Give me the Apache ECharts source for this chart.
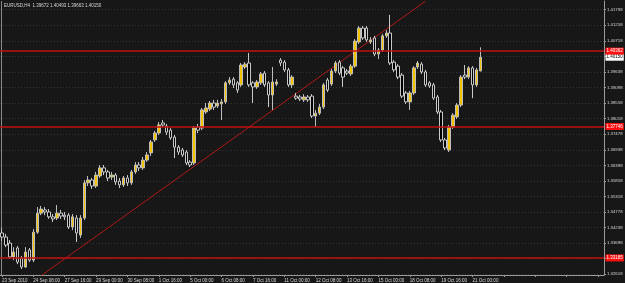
<!DOCTYPE html>
<html><head><meta charset="utf-8">
<script src="https://cdn.jsdelivr.net/npm/echarts@6/dist/echarts.min.js"></script>
<style>html,body{margin:0;padding:0;background:#171717;overflow:hidden}#c{width:625px;height:283px}</style>
</head><body><div id="c"></div>
<script>
const symbolName = 'EURUSD,H4';
const timeLabels = ['23 Sep 2010','24 Sep 08:00','27 Sep 16:00','29 Sep 00:00','30 Sep 08:00','1 Oct 16:00','5 Oct 00:00','6 Oct 08:00','7 Oct 16:00','11 Oct 00:00','12 Oct 08:00','13 Oct 16:00','15 Oct 00:00','18 Oct 08:00','19 Oct 16:00','21 Oct 00:00'];
const openV = [1.3405,1.3391,1.3370,1.3322,1.3353,1.3318,1.3287,1.3346,1.3311,1.3408,
1.3474,1.3485,1.3478,1.3461,1.3457,1.3474,1.3467,1.3467,1.3426,1.3457,
1.3398,1.3457,1.3579,1.3589,1.3568,1.3603,1.3631,1.3617,1.3599,1.3606,
1.3585,1.3572,1.3596,1.3579,1.3617,1.3641,1.3631,1.3658,1.3683,1.3728,
1.3752,1.3787,1.3776,1.3762,1.3738,1.3703,1.3693,1.3686,1.3651,1.3648,
1.3773,1.3769,1.3825,1.3835,1.3856,1.3846,1.3853,1.3860,1.3926,1.3939,
1.3926,1.3919,1.3981,1.3995,1.3926,1.3912,1.3926,1.3960,1.3926,1.3884,
1.3922,1.4005,1.3998,1.3971,1.3919,1.3880,1.3877,1.3867,1.3877,1.3880,
1.3811,1.3821,1.3842,1.3936,1.3922,1.3967,1.3998,1.3978,1.3967,1.3957,
1.3984,1.4068,1.4116,1.4116,1.4068,1.4082,1.4026,1.4040,1.4089,1.4099,
1.3998,1.3984,1.3953,1.3891,1.3860,1.3891,1.3981,1.3991,1.3964,1.3926,
1.3919,1.3877,1.3825,1.3728,1.3693,1.3773,1.3808,1.3849,1.3953,1.3946,
1.3978,1.3919,1.39672];
const closeV = [1.3391,1.3363,1.3322,1.3339,1.3304,1.3287,1.3339,1.3311,1.3408,1.3474,
1.3488,1.3478,1.3461,1.3454,1.3474,1.3464,1.3461,1.3426,1.3461,1.3405,
1.3457,1.3579,1.3589,1.3568,1.3606,1.3631,1.3617,1.3596,1.3606,1.3582,
1.3572,1.3596,1.3579,1.3617,1.3641,1.3631,1.3658,1.3676,1.3721,1.3752,
1.3780,1.3780,1.3755,1.3735,1.3703,1.3686,1.3676,1.3648,1.3641,1.3769,
1.3762,1.3832,1.3839,1.3856,1.3842,1.3856,1.3860,1.3926,1.3936,1.3919,
1.3901,1.3988,1.3991,1.3919,1.3912,1.3929,1.3957,1.3919,1.3884,1.3929,
1.3929,1.3995,1.3971,1.3919,1.3946,1.3873,1.3870,1.3877,1.3867,1.3811,
1.3821,1.3842,1.3919,1.3901,1.3967,1.3995,1.3960,1.3946,1.3960,1.3984,
1.4071,1.4116,1.4082,1.4075,1.4075,1.4026,1.4040,1.4089,1.4099,1.3995,
1.3971,1.3946,1.3880,1.3860,1.3891,1.3978,1.3995,1.3964,1.3919,1.3915,
1.3873,1.3825,1.3728,1.3700,1.3773,1.3814,1.3849,1.3946,1.3946,1.3978,
1.3919,1.3971,1.40150];
const lowV = [1.3377,1.3356,1.3315,1.3311,1.3297,1.3280,1.3284,1.3304,1.3304,1.3402,
1.3467,1.3467,1.3454,1.3443,1.3450,1.3454,1.3450,1.3419,1.3415,1.3374,
1.3388,1.3450,1.3568,1.3558,1.3561,1.3596,1.3606,1.3585,1.3589,1.3572,
1.3561,1.3565,1.3568,1.3572,1.3610,1.3620,1.3624,1.3651,1.3672,1.3721,
1.3745,1.3773,1.3745,1.3728,1.3665,1.3676,1.3669,1.3641,1.3634,1.3641,
1.3752,1.3762,1.3818,1.3828,1.3832,1.3839,1.3797,1.3853,1.3919,1.3908,
1.3891,1.3912,1.3974,1.3912,1.3856,1.3905,1.3919,1.3912,1.3842,1.3832,
1.3915,1.3984,1.3964,1.3912,1.3908,1.3867,1.3863,1.3860,1.3860,1.3804,
1.3773,1.3814,1.3835,1.3894,1.3915,1.3960,1.3953,1.3912,1.3953,1.3950,
1.3978,1.4061,1.4075,1.4068,1.4061,1.4019,1.4009,1.4033,1.4082,1.3988,
1.3964,1.3939,1.3873,1.3853,1.3832,1.3884,1.3974,1.3957,1.3912,1.3908,
1.3867,1.3818,1.3721,1.3693,1.3686,1.3766,1.3801,1.3842,1.3939,1.3939,
1.3873,1.3912,1.39663];
const highV = [1.3422,1.3402,1.3381,1.3356,1.3360,1.3325,1.3356,1.3353,1.3419,1.3495,
1.3499,1.3495,1.3488,1.3471,1.3502,1.3485,1.3478,1.3474,1.3471,1.3467,
1.3467,1.3589,1.3603,1.3596,1.3617,1.3641,1.3641,1.3624,1.3617,1.3613,
1.3596,1.3603,1.3606,1.3624,1.3651,1.3651,1.3669,1.3686,1.3728,1.3759,
1.3790,1.3797,1.3783,1.3769,1.3745,1.3710,1.3700,1.3693,1.3658,1.3776,
1.3783,1.3839,1.3856,1.3863,1.3867,1.3867,1.3870,1.3932,1.3946,1.3946,
1.3932,1.3995,1.3998,1.4030,1.3932,1.3936,1.3964,1.3967,1.3932,1.3981,
1.3939,1.4012,1.4005,1.3978,1.3953,1.3891,1.3884,1.3887,1.3884,1.3887,
1.3832,1.3853,1.3926,1.3943,1.3974,1.4002,1.4005,1.3984,1.3974,1.3991,
1.4078,1.4123,1.4123,1.4123,1.4085,1.4089,1.4047,1.4096,1.4109,1.4162,
1.4005,1.3991,1.3960,1.3898,1.3898,1.3984,1.4002,1.3998,1.3971,1.3932,
1.3926,1.3884,1.3832,1.3735,1.3780,1.3821,1.3856,1.3953,1.3988,1.3984,
1.3984,1.3978,1.40493];
const priceTicks = [1.32618,1.33158,1.33698,1.34238,1.34778,1.35318,1.35858,1.36398,1.36938,1.37478,1.38018,1.38558,1.39098,1.39638,1.40178,1.40718,1.41258,1.41798];
const levels = [1.40362, 1.37746, 1.33185];
const bidPrice = 1.40150;
const trendLine = [[10, 1.32573], [108, 1.42097]];
const slotCount = 154;

const slots = Array.from({length: slotCount}, (_, i) => String(i));
const candles = openV.map((o, i) => [o, closeV[i], lowV[i], highV[i]]);
const last = candles.length - 1;
const header = symbolName + '  ' + [openV[last], highV[last], lowV[last], closeV[last]].map(v => v.toFixed(5)).join(' ');
const FONT = 'Liberation Sans';

const chart = echarts.init(document.getElementById('c'), null, {renderer: 'canvas'});
chart.setOption({
  animation: false,
  backgroundColor: '#171717',
  grid: {left: 0, right: 21, top: 1, bottom: 8, containLabel: false, outerBoundsMode: 'none'},
  xAxis: {
    type: 'category', data: slots, boundaryGap: true,
    axisLine: {show: true, lineStyle: {color: '#9a9a9a', width: 1}},
    axisTick: {show: true, interval: 7, alignWithLabel: true, length: 2, lineStyle: {color: '#9a9a9a'}},
    axisLabel: {
      interval: 7, align: 'left', fontSize: 4.5, color: '#d8d8d8', margin: 3, fontFamily: FONT,
      formatter: (v, idx) => (idx % 8 === 0 && timeLabels[idx / 8]) ? timeLabels[idx / 8] : ''
    },
    splitLine: {show: false}
  },
  yAxis: {
    type: 'value', position: 'right', min: 1.32593, max: 1.42101, scale: true,
    axisLine: {show: true, lineStyle: {color: '#9a9a9a', width: 1}},
    axisTick: {show: true, length: 2, lineStyle: {color: '#9a9a9a'}, customValues: priceTicks},
    axisLabel: {customValues: priceTicks, formatter: v => v.toFixed(5), fontSize: 4.3, color: '#d8d8d8', margin: 3, fontFamily: FONT},
    splitLine: {show: false}
  },
  series: [
    {
      type: 'line', data: trendLine, symbol: 'none', silent: true, z: 3,
      lineStyle: {color: '#b01818', width: 1},
      markLine: {
        silent: true, symbol: 'none', animation: false, z: 1, precision: 6,
        label: {show: false},
        lineStyle: {color: '#333333', width: 1, type: [1, 2]},
        data: priceTicks.map(v => ({yAxis: v}))
      }
    },
    {
      type: 'candlestick', data: candles, barWidth: 3, z: 4,
      itemStyle: {color: '#f2c200', color0: '#000000', borderColor: '#bdbdbd', borderColor0: '#c8c8c8', borderWidth: 1},
      markLine: {
        silent: true, symbol: 'none', animation: false, precision: 6, z: 10,
        data: [{
          yAxis: bidPrice,
          lineStyle: {color: 'rgba(0,0,0,0)', width: 0},
          label: {show: true, position: 'end', distance: 1.5, formatter: bidPrice.toFixed(5), backgroundColor: '#ffffff', color: '#000000', fontSize: 4.5, fontFamily: FONT, padding: [1, 1], opacity: 1}
        }].concat(levels.map(v => ({
          yAxis: v,
          lineStyle: {color: '#c41010', width: 1.5, type: 'solid'},
          label: {show: true, position: 'end', distance: 1.5, formatter: v.toFixed(5), backgroundColor: '#ff1010', color: '#ffffff', fontSize: 4.5, fontFamily: FONT, padding: [1, 1]}
        })))
      }
    }
  ],
  graphic: [
    {type: 'text', left: 4, top: 3, style: {text: header, fill: '#d8d8d8', font: '4.5px ' + FONT}},
    {type: 'line', shape: {x1: 1.5, y1: 1, x2: 1.5, y2: 275}, style: {stroke: '#8a8a8a', lineWidth: 1}}
  ]
});
</script>
</body></html>
